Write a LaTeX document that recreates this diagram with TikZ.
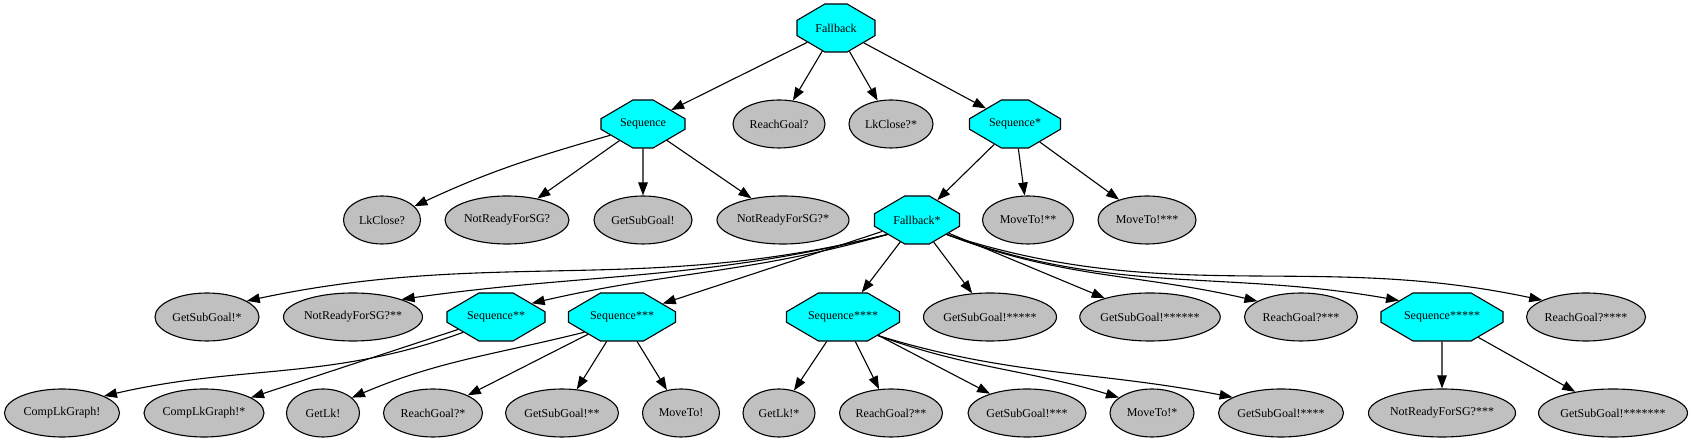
\documentclass[tikz,border=0pt]{standalone}
\usepackage{fontspec}
\setmainfont{Liberation Serif}
\usetikzlibrary{shapes.geometric,shapes.misc,arrows.meta}
\definecolor{ctrlcyan}{RGB}{0,255,255}
\definecolor{leafgray}{RGB}{192,192,192}
\tikzset{
  ctrl/.style={chamfered rectangle, chamfered rectangle xsep=23pt,
    chamfered rectangle ysep=13.5pt, chamfered rectangle angle=59.6,
    draw, fill=ctrlcyan, inner sep=0pt, minimum height=48},
  leaf/.style={ellipse, draw, fill=leafgray, inner sep=0pt, minimum height=48},
  every node/.style={font=\fontsize{12}{14}\selectfont},
  >={Triangle[length=13pt,width=9.5pt]}
}
\begin{document}
\begin{tikzpicture}[x=1pt,y=1pt,line width=1.1pt]
\useasboundingbox (0,0) rectangle (1691,443);
% control nodes
\foreach \n/\x/\y/\w/\t in {fb/836/415/78/Fallback, seq/643/319/84/Sequence,
    seq1/1015/319/91/Sequence*, fb1/917/223/85/Fallback*,
    seq2/496/126/98/Sequence**, seq3/622/126/107/Sequence***,
    seq4/843/126/113/Sequence****, seq5/1442/126/122/Sequence*****}
  \node[ctrl,minimum width=\w] (\n) at (\x,\y) {\t};
% leaves
\foreach \n/\x/\w/\t in {rg/779/92/ReachGoal?, lkc1/891/84/LkClose?*}
  \node[leaf,minimum width=\w] (\n) at (\x,319) {\t};
\foreach \n/\x/\w/\t in {lkc/382/77/LkClose?, nr/507/124/NotReadyForSG?,
    gsg/643/98/GetSubGoal!, nr1/783/132/NotReadyForSG?*,
    mt2/1028/91/MoveTo!**, mt3/1147/98/MoveTo!***}
  \node[leaf,minimum width=\w] (\n) at (\x,223) {\t};
\foreach \n/\x/\w/\t in {gsg1/207/104/GetSubGoal!*, nr2/353/139/NotReadyForSG?**,
    gsg5/990/133/GetSubGoal!*****, gsg6/1150/140/GetSubGoal!******,
    rg3/1301/113/ReachGoal?***, rg4/1586/119/ReachGoal?****}
  \node[leaf,minimum width=\w] (\n) at (\x,126) {\t};
\foreach \n/\x/\w/\t in {clg/62/115/CompLkGraph!, clg1/204/120/CompLkGraph!*,
    glk/323/73/GetLk!, rg1/433/99/ReachGoal?*, gsg2/562/113/GetSubGoal!**,
    mt/681/77/MoveTo!, glk1/779/72/GetLk!*, rg2/891/103/ReachGoal?**,
    gsg3/1027/118/GetSubGoal!***, mt1/1152/84/MoveTo!*,
    gsg4/1281/125/GetSubGoal!****, nr3/1442/146/NotReadyForSG?***,
    gsg7/1613/147/GetSubGoal!*******}
  \node[leaf,minimum width=\w] (\n) at (\x,30) {\t};
% straight edges
\foreach \a/\b in {fb/seq, fb/rg, fb/lkc1, fb/seq1, seq/nr, seq/gsg, seq/nr1,
    seq1/fb1, seq1/mt2, seq1/mt3, fb1/seq3, fb1/seq4, fb1/gsg5, fb1/gsg6,
    seq2/clg1, seq3/rg1, seq3/gsg2, seq3/mt, seq4/glk1, seq4/rg2, seq4/gsg3,
    seq5/nr3, seq5/gsg7}
  \draw[->] (\a) -- (\b);
% curved edges
\draw[->] (seq.199) to[out=196,in=25] (lkc.23);
\draw[->] (fb1.206) to[out=194,in=12] (gsg1.22);
\draw[->] (fb1.206) to[out=194,in=8] (nr2.20);
\draw[->] (fb1.206) to[out=196,in=13] (seq2.21);
\draw[->] (fb1.-26) to[out=-21,in=167] (rg3.160);
\draw[->] (fb1.-26) to[out=-20,in=170] (seq5.159);
\draw[->] (fb1.-26) to[out=-18,in=168] (rg4.159);
\draw[->] (seq2.205) to[out=200,in=13] (clg.22);
\draw[->] (seq3.202) to[out=194,in=23] (glk.28);
\draw[->] (seq4.-28) to[out=-20,in=163] (mt1.155);
\draw[->] (seq4.-28) to[out=-17,in=169] (gsg4.162);
\end{tikzpicture}
\end{document}
